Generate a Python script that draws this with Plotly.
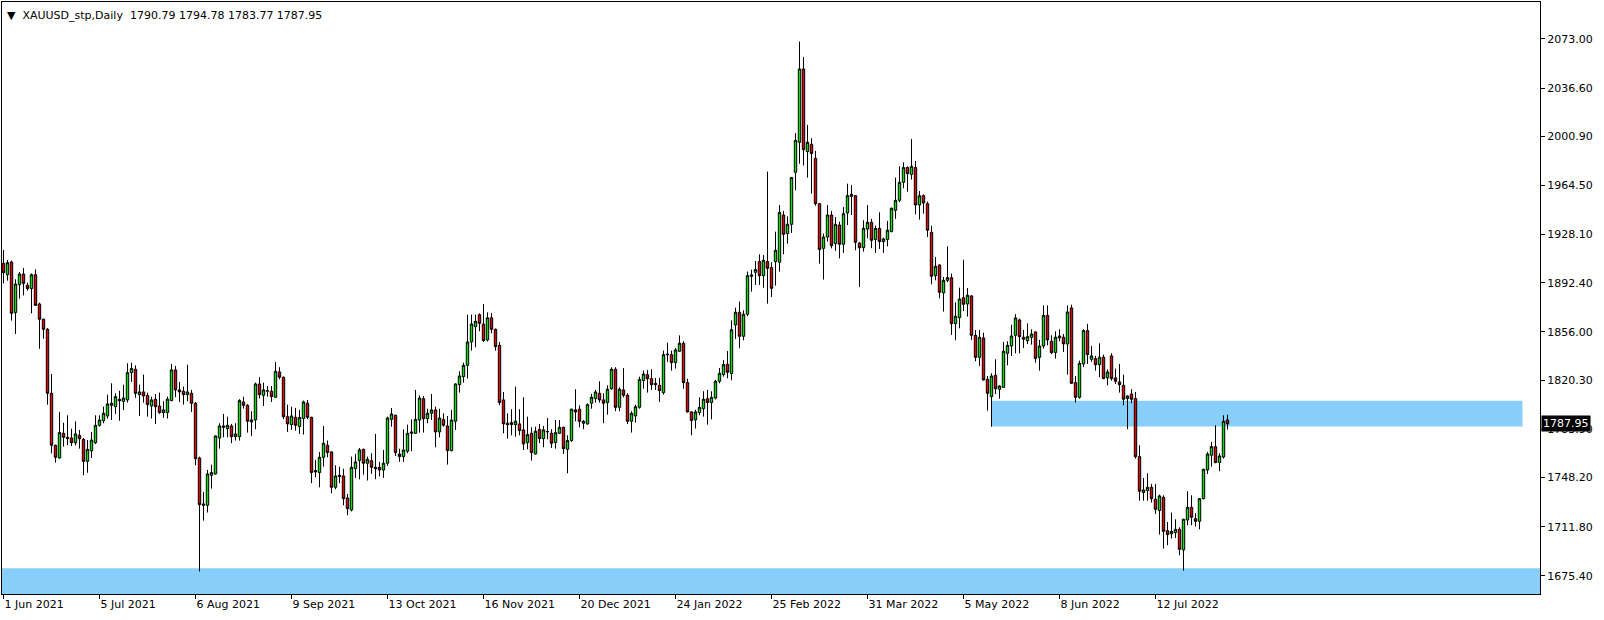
import plotly.graph_objects as go

symbol_title = "XAUUSD_stp,Daily"
last_quote = ["1790.79", "1794.78", "1783.77", "1787.95"]

date_labels = ["1 Jun 2021", "5 Jul 2021", "6 Aug 2021", "9 Sep 2021", "13 Oct 2021",
               "16 Nov 2021", "20 Dec 2021", "24 Jan 2022", "25 Feb 2022", "31 Mar 2022",
               "5 May 2022", "8 Jun 2022", "12 Jul 2022"]
label_step = 24

price_ticks = [2073.00, 2036.60, 2000.90, 1964.50, 1928.10, 1892.40, 1856.00,
               1820.30, 1783.90, 1748.20, 1711.80, 1675.40]

opens = [1906.8, 1898.4, 1907.8, 1870.3, 1891.0, 1898.9, 1890.5, 1888.1, 1898.4, 1876.7,
         1865.4, 1858.0, 1810.6, 1772.1, 1762.7, 1781.0, 1778.0, 1777.5, 1774.0, 1779.5,
         1776.5, 1760.2, 1768.1, 1774.0, 1786.9, 1790.3, 1793.8, 1801.7, 1800.7, 1806.1,
         1804.6, 1805.7, 1825.9, 1828.4, 1809.6, 1811.6, 1809.1, 1801.2, 1806.2, 1801.2,
         1796.3, 1796.3, 1805.2, 1827.9, 1813.1, 1812.1, 1809.6, 1810.6, 1803.2, 1762.7,
         1728.7, 1727.7, 1749.9, 1750.9, 1777.5, 1785.4, 1784.4, 1786.4, 1778.5, 1778.5,
         1804.2, 1801.7, 1789.4, 1790.9, 1817.5, 1809.1, 1812.1, 1812.1, 1807.7, 1826.4,
         1822.5, 1793.3, 1787.4, 1792.8, 1785.9, 1791.9, 1803.2, 1792.8, 1753.4, 1751.9,
         1763.2, 1772.1, 1767.2, 1741.0, 1748.9, 1749.4, 1733.1, 1724.2, 1754.8, 1760.8,
         1769.1, 1758.8, 1760.7, 1755.8, 1755.8, 1753.8, 1758.8, 1791.3, 1794.3, 1765.7,
         1763.7, 1767.7, 1781.0, 1781.0, 1790.8, 1806.6, 1791.8, 1795.8, 1798.3, 1782.0,
         1791.3, 1786.4, 1768.1, 1789.9, 1817.0, 1822.9, 1831.3, 1848.6, 1859.9, 1868.8,
         1861.9, 1850.1, 1866.5, 1858.0, 1846.1, 1805.7, 1788.4, 1788.9, 1787.4, 1787.9,
         1783.5, 1774.1, 1781.0, 1765.7, 1783.9, 1777.0, 1782.0, 1781.0, 1774.1, 1781.0,
         1785.4, 1769.1, 1775.6, 1798.3, 1798.8, 1789.9, 1787.9, 1803.2, 1806.7, 1810.6,
         1805.7, 1803.7, 1814.0, 1828.4, 1800.2, 1813.1, 1809.1, 1789.9, 1793.8, 1800.2,
         1820.0, 1824.4, 1821.4, 1818.0, 1816.5, 1811.1, 1839.7, 1839.2, 1833.3, 1841.7,
         1847.6, 1818.5, 1796.8, 1790.9, 1796.3, 1799.2, 1806.6, 1803.7, 1807.1, 1819.5,
         1824.4, 1832.1, 1825.2, 1861.2, 1870.6, 1852.8, 1869.1, 1897.2, 1900.2, 1908.1,
         1897.7, 1908.1, 1903.7, 1908.1, 1907.6, 1942.6, 1928.8, 1935.7, 1974.2, 1996.4,
         2050.7, 1989.5, 1994.9, 1984.6, 1951.0, 1917.9, 1926.3, 1942.6, 1921.4, 1935.2,
         1920.9, 1944.1, 1956.4, 1956.9, 1921.9, 1918.4, 1932.2, 1937.2, 1924.4, 1932.7,
         1922.9, 1924.4, 1930.3, 1946.1, 1953.5, 1966.8, 1977.7, 1972.7, 1977.7, 1950.0,
         1956.9, 1951.0, 1929.8, 1897.7, 1905.6, 1884.9, 1894.2, 1896.2, 1862.2, 1866.6,
         1881.4, 1876.7, 1882.7, 1853.5, 1837.2, 1851.6, 1821.0, 1808.1, 1823.9, 1813.5,
         1815.0, 1840.2, 1845.6, 1853.5, 1864.9, 1852.1, 1849.6, 1852.0, 1856.0, 1837.2,
         1845.6, 1868.3, 1849.1, 1840.7, 1851.6, 1852.1, 1847.1, 1873.8, 1818.5, 1807.6,
         1832.3, 1857.0, 1835.8, 1836.3, 1831.8, 1837.3, 1822.0, 1838.3, 1822.0, 1819.0,
         1816.5, 1806.7, 1810.1, 1806.7, 1763.7, 1737.1, 1738.6, 1741.0, 1732.1, 1723.8,
         1733.6, 1708.9, 1706.5, 1707.5, 1709.9, 1694.6, 1716.8, 1726.2, 1717.8, 1715.8,
         1732.6, 1753.8, 1764.7, 1771.1, 1759.3, 1763.4, 1790.79]

highs = [1916.7, 1909.3, 1908.8, 1895.0, 1900.4, 1903.4, 1892.5, 1899.4, 1902.4, 1877.7,
         1865.9, 1858.9, 1824.9, 1772.6, 1796.8, 1788.8, 1794.3, 1784.4, 1789.8, 1783.4,
         1777.5, 1776.0, 1781.9, 1794.3, 1794.3, 1800.7, 1809.6, 1818.0, 1810.6, 1812.5,
         1817.0, 1832.8, 1833.3, 1831.3, 1817.0, 1824.4, 1811.1, 1808.1, 1810.1, 1811.1,
         1804.7, 1808.1, 1832.3, 1830.9, 1819.0, 1815.6, 1831.8, 1813.1, 1804.2, 1763.7,
         1737.6, 1753.9, 1757.8, 1779.5, 1788.4, 1795.3, 1793.3, 1787.9, 1788.4, 1806.2,
         1808.1, 1802.7, 1797.3, 1818.5, 1822.5, 1818.5, 1816.0, 1816.0, 1833.8, 1829.9,
         1823.0, 1802.2, 1800.7, 1799.8, 1798.3, 1805.2, 1805.7, 1793.3, 1761.3, 1767.2,
         1786.4, 1775.6, 1767.7, 1757.3, 1756.3, 1754.8, 1736.1, 1763.7, 1765.7, 1770.1,
         1769.6, 1763.7, 1766.2, 1780.5, 1759.8, 1768.7, 1793.3, 1799.7, 1794.8, 1769.6,
         1783.9, 1787.4, 1791.3, 1813.1, 1809.1, 1808.6, 1799.2, 1810.1, 1800.7, 1799.2,
         1795.8, 1793.8, 1798.3, 1818.0, 1826.9, 1833.3, 1868.8, 1868.8, 1868.8, 1869.8,
         1876.7, 1870.5, 1870.0, 1858.5, 1848.6, 1811.6, 1795.8, 1798.8, 1815.5, 1798.8,
         1807.7, 1793.3, 1785.4, 1785.9, 1787.9, 1786.4, 1792.3, 1784.0, 1790.8, 1790.8,
         1785.9, 1779.5, 1799.3, 1813.6, 1801.7, 1790.8, 1803.2, 1810.1, 1813.1, 1819.5,
         1810.6, 1816.5, 1829.9, 1829.9, 1815.0, 1829.3, 1810.6, 1797.3, 1802.2, 1822.9,
         1827.4, 1827.9, 1828.4, 1822.0, 1822.0, 1842.2, 1848.1, 1842.2, 1844.1, 1853.5,
         1849.1, 1821.4, 1797.3, 1798.3, 1807.6, 1812.1, 1813.1, 1812.1, 1820.5, 1829.3,
         1835.3, 1841.9, 1864.6, 1874.0, 1878.5, 1872.0, 1900.7, 1902.2, 1908.6, 1913.5,
         1913.0, 1974.7, 1907.6, 1930.3, 1950.0, 1945.6, 1941.6, 1970.8, 2003.3, 2071.0,
         2059.6, 2009.3, 1999.4, 1990.0, 1951.5, 1928.8, 1950.0, 1945.6, 1941.1, 1937.7,
         1948.6, 1965.8, 1964.8, 1957.4, 1922.4, 1938.7, 1950.0, 1939.7, 1934.7, 1944.6,
         1925.8, 1938.2, 1948.1, 1970.3, 1978.6, 1981.6, 1978.6, 1998.9, 1982.6, 1960.4,
         1957.9, 1952.5, 1934.7, 1911.5, 1906.1, 1896.7, 1919.4, 1899.2, 1877.9, 1888.8,
         1909.5, 1888.5, 1883.2, 1857.5, 1857.5, 1855.5, 1823.4, 1825.4, 1835.8, 1816.5,
         1848.6, 1849.1, 1861.4, 1869.3, 1865.9, 1857.5, 1862.4, 1858.0, 1856.5, 1850.1,
         1875.7, 1875.7, 1853.5, 1856.5, 1858.0, 1854.5, 1875.7, 1876.2, 1823.4, 1834.8,
         1858.0, 1862.0, 1845.7, 1838.3, 1847.6, 1839.2, 1828.4, 1840.2, 1828.9, 1832.3,
         1824.4, 1809.1, 1813.6, 1811.6, 1772.1, 1747.9, 1751.4, 1743.5, 1743.5, 1735.6,
         1735.1, 1715.3, 1722.3, 1717.3, 1711.4, 1717.8, 1738.1, 1735.1, 1721.8, 1733.1,
         1754.8, 1767.2, 1774.6, 1786.9, 1766.2, 1794.3, 1794.78]

lows = [1892.0, 1894.0, 1864.4, 1854.5, 1880.7, 1883.1, 1886.6, 1869.8, 1875.2, 1843.6,
        1851.0, 1802.2, 1766.1, 1759.2, 1762.2, 1771.1, 1772.1, 1771.6, 1772.1, 1769.6,
        1749.9, 1751.8, 1762.7, 1773.0, 1785.9, 1788.4, 1791.8, 1790.8, 1795.3, 1790.3,
        1798.2, 1803.7, 1819.0, 1807.2, 1793.8, 1803.7, 1793.3, 1791.9, 1787.9, 1795.3,
        1792.4, 1791.9, 1804.7, 1807.7, 1804.2, 1802.2, 1804.7, 1796.8, 1757.3, 1678.6,
        1716.3, 1722.3, 1740.0, 1750.4, 1769.6, 1778.0, 1778.0, 1773.6, 1775.6, 1775.6,
        1799.3, 1781.5, 1779.0, 1784.0, 1806.7, 1801.2, 1808.1, 1804.2, 1807.2, 1821.0,
        1791.4, 1782.0, 1783.5, 1783.0, 1780.5, 1780.0, 1791.4, 1744.0, 1748.4, 1741.0,
        1756.3, 1763.2, 1736.6, 1739.5, 1744.0, 1727.7, 1720.3, 1723.2, 1747.9, 1746.9,
        1750.4, 1746.0, 1751.0, 1747.0, 1749.0, 1748.0, 1756.8, 1785.9, 1764.2, 1759.8,
        1759.8, 1766.2, 1767.7, 1780.5, 1781.5, 1781.5, 1788.4, 1790.8, 1770.6, 1778.0,
        1785.9, 1757.8, 1767.7, 1783.5, 1811.1, 1818.5, 1821.5, 1842.2, 1844.6, 1856.5,
        1848.6, 1849.0, 1855.0, 1842.2, 1801.7, 1781.0, 1777.0, 1779.5, 1778.5, 1779.5,
        1768.6, 1769.1, 1760.8, 1765.2, 1773.6, 1770.6, 1776.5, 1770.1, 1769.6, 1780.5,
        1765.7, 1751.4, 1774.6, 1789.9, 1785.4, 1784.0, 1787.4, 1799.2, 1803.7, 1803.7,
        1788.4, 1794.8, 1813.1, 1797.3, 1797.3, 1807.6, 1787.9, 1781.5, 1788.9, 1799.2,
        1814.0, 1811.1, 1813.1, 1813.1, 1804.2, 1809.6, 1833.8, 1827.4, 1828.9, 1841.2,
        1814.0, 1796.3, 1779.5, 1784.5, 1794.3, 1793.3, 1787.4, 1791.3, 1806.1, 1818.0,
        1822.9, 1821.7, 1820.2, 1850.8, 1843.9, 1849.8, 1867.6, 1885.9, 1890.8, 1890.8,
        1888.8, 1877.0, 1881.9, 1890.3, 1900.7, 1913.5, 1921.4, 1929.3, 1960.9, 1980.6,
        1979.2, 1970.3, 1958.4, 1949.5, 1906.6, 1894.8, 1922.9, 1917.9, 1916.0, 1910.5,
        1914.5, 1935.2, 1942.6, 1916.5, 1889.3, 1915.5, 1925.3, 1918.0, 1914.5, 1917.5,
        1914.5, 1919.4, 1929.8, 1939.7, 1952.0, 1962.4, 1959.9, 1968.8, 1943.1, 1939.2,
        1943.6, 1926.3, 1891.3, 1894.2, 1880.9, 1871.1, 1892.8, 1853.8, 1849.8, 1858.7,
        1871.5, 1867.4, 1850.1, 1834.3, 1830.8, 1820.0, 1797.8, 1785.9, 1810.1, 1806.6,
        1814.5, 1831.3, 1838.2, 1840.2, 1840.2, 1844.2, 1847.1, 1846.6, 1833.3, 1827.4,
        1843.7, 1846.1, 1839.7, 1836.3, 1849.1, 1841.2, 1824.4, 1817.5, 1803.7, 1806.6,
        1830.0, 1832.3, 1833.8, 1827.4, 1822.5, 1821.0, 1816.5, 1820.0, 1817.5, 1811.1,
        1801.7, 1784.0, 1803.2, 1762.2, 1731.1, 1731.1, 1731.1, 1729.7, 1721.3, 1706.0,
        1695.6, 1698.1, 1703.0, 1703.5, 1690.7, 1679.3, 1712.9, 1712.9, 1711.9, 1709.9,
        1732.1, 1750.9, 1756.3, 1758.8, 1752.9, 1762.2, 1783.77]

closes = [1899.9, 1907.3, 1869.8, 1891.5, 1898.9, 1892.0, 1888.1, 1898.4, 1875.7, 1865.4,
          1858.0, 1810.6, 1772.1, 1763.2, 1781.5, 1778.0, 1777.0, 1774.0, 1780.5, 1777.0,
          1760.2, 1769.1, 1776.0, 1786.9, 1790.8, 1795.8, 1802.7, 1803.2, 1808.1, 1805.1,
          1807.1, 1825.9, 1828.9, 1810.6, 1811.6, 1808.6, 1802.2, 1805.7, 1800.7, 1796.3,
          1798.3, 1806.2, 1827.9, 1813.1, 1811.6, 1809.6, 1811.6, 1803.2, 1762.2, 1728.2,
          1727.7, 1750.9, 1751.9, 1779.0, 1786.4, 1786.4, 1786.9, 1778.5, 1780.5, 1805.2,
          1801.7, 1789.9, 1790.9, 1817.5, 1809.6, 1813.1, 1812.6, 1808.1, 1826.9, 1822.5,
          1793.3, 1787.9, 1793.8, 1786.9, 1792.8, 1804.2, 1792.8, 1751.9, 1752.4, 1763.2,
          1773.6, 1766.7, 1741.0, 1749.4, 1749.9, 1732.6, 1725.2, 1755.8, 1759.8, 1768.7,
          1758.8, 1761.7, 1755.8, 1754.8, 1753.8, 1758.8, 1792.3, 1795.3, 1766.7, 1763.7,
          1768.6, 1781.0, 1782.0, 1791.3, 1807.1, 1791.8, 1795.8, 1798.3, 1782.0, 1792.3,
          1786.9, 1768.1, 1790.8, 1817.5, 1823.4, 1831.3, 1848.6, 1861.9, 1863.9, 1862.4,
          1849.6, 1866.5, 1858.0, 1845.2, 1803.7, 1787.9, 1787.4, 1787.4, 1789.9, 1783.0,
          1773.1, 1780.0, 1766.7, 1782.5, 1777.0, 1783.5, 1782.3, 1773.6, 1781.5, 1785.4,
          1769.6, 1775.6, 1798.8, 1796.8, 1789.9, 1788.4, 1802.2, 1807.7, 1811.6, 1805.7,
          1803.2, 1813.6, 1828.4, 1800.2, 1813.6, 1809.1, 1789.9, 1795.8, 1800.7, 1820.9,
          1824.9, 1821.4, 1817.0, 1817.0, 1812.6, 1839.2, 1839.2, 1833.3, 1842.7, 1847.6,
          1818.5, 1796.8, 1790.4, 1796.8, 1800.2, 1806.2, 1803.7, 1807.6, 1819.5, 1825.4,
          1831.8, 1826.2, 1857.7, 1870.6, 1852.8, 1869.1, 1897.7, 1898.2, 1902.2, 1897.7,
          1909.1, 1903.2, 1888.3, 1916.5, 1944.6, 1928.3, 1935.7, 1970.3, 1997.9, 2050.7,
          1991.0, 1996.4, 1988.0, 1951.0, 1917.0, 1926.3, 1942.6, 1919.9, 1935.7, 1920.9,
          1943.6, 1956.9, 1957.9, 1922.4, 1918.4, 1932.7, 1937.2, 1923.9, 1932.7, 1922.9,
          1924.9, 1931.3, 1947.6, 1953.5, 1966.8, 1977.7, 1973.2, 1978.6, 1950.0, 1956.9,
          1951.5, 1931.3, 1897.2, 1904.6, 1885.4, 1894.2, 1896.2, 1862.2, 1867.6, 1880.4,
          1876.5, 1883.2, 1853.5, 1837.2, 1852.1, 1820.5, 1810.6, 1823.4, 1814.0, 1816.0,
          1841.7, 1846.1, 1853.0, 1866.4, 1852.5, 1850.6, 1852.5, 1854.5, 1836.3, 1845.6,
          1868.3, 1850.1, 1840.7, 1852.1, 1853.0, 1847.1, 1870.8, 1818.0, 1807.6, 1832.8,
          1857.0, 1839.2, 1838.3, 1831.8, 1837.3, 1821.5, 1826.4, 1821.5, 1819.5, 1817.0,
          1806.2, 1808.6, 1806.2, 1763.7, 1738.1, 1739.0, 1741.0, 1732.6, 1724.7, 1734.6,
          1708.4, 1706.0, 1708.4, 1709.9, 1695.1, 1717.3, 1726.2, 1718.8, 1715.8, 1732.6,
          1754.3, 1765.7, 1771.1, 1759.3, 1764.2, 1789.9, 1787.95]

# zones (price levels)
zone_upper = (1786.0, 1805.0)
zone_upper_start_bar = 247
zone_lower_top = 1681.0

n = len(opens)
bars = list(range(n))

GREEN = "#00E600"
RED = "#E60000"
ZONE = "#87CEFA"
FONT = "DejaVu Sans"

fig = go.Figure()
fig.add_trace(go.Candlestick(
    x=bars, open=opens, high=highs, low=lows, close=closes,
    increasing=dict(fillcolor=GREEN, line=dict(color="black", width=1)),
    decreasing=dict(fillcolor=RED, line=dict(color="black", width=1)),
    whiskerwidth=0, showlegend=False, hoverinfo="skip",
))

y_lo, y_hi = 1662.0, 2100.3
x_lo, x_hi = -0.375, 384.125

fig.add_shape(type="rect", xref="x", yref="y", x0=zone_upper_start_bar, x1=379.75,
              y0=zone_upper[0], y1=zone_upper[1], fillcolor=ZONE, line=dict(width=0), layer="below")
fig.add_shape(type="rect", xref="paper", yref="y", x0=0, x1=1,
              y0=y_lo, y1=zone_lower_top, fillcolor=ZONE, line=dict(width=0), layer="below")

# title
fig.add_annotation(xref="paper", yref="paper", x=0, y=1, xanchor="left", yanchor="top",
                   xshift=3, yshift=-5, showarrow=False,
                   text="▼\u00a0\u00a0" + symbol_title + "\u00a0\u00a0" + " ".join(last_quote),
                   font=dict(family=FONT, size=11, color="black"))

# current price label on axis
fig.add_annotation(xref="paper", yref="y", x=1, y=float(last_quote[3]), xanchor="left",
                   yanchor="middle", xshift=1, showarrow=False, text=last_quote[3],
                   bgcolor="black", borderpad=1, font=dict(family=FONT, size=11, color="white"))

fig.update_layout(
    width=1604, height=620,
    margin=dict(l=2, r=64, t=2, b=26, autoexpand=False),
    paper_bgcolor="white", plot_bgcolor="white",
    boxgap=0.15,
    showlegend=False,
    xaxis=dict(range=[x_lo, x_hi], rangeslider=dict(visible=False), automargin=False,
               tickvals=[i * label_step for i in range(len(date_labels))], ticktext=date_labels,
               ticks="outside", ticklen=4, tickcolor="black", ticklabelposition="outside right",
               showgrid=False, zeroline=False, showline=True, mirror=True,
               linecolor="black", linewidth=1,
               tickfont=dict(family=FONT, size=11, color="black")),
    yaxis=dict(range=[y_lo, y_hi], side="right", automargin=False,
               tickvals=price_ticks, ticktext=[f"{v:.2f}" for v in price_ticks],
               ticks="outside", ticklen=4, tickcolor="black",
               showgrid=False, zeroline=False, showline=True, mirror=True,
               linecolor="black", linewidth=1,
               tickfont=dict(family=FONT, size=11, color="black")),
)

fig.write_html("out.html", config={"displayModeBar": False},
               post_script="document.body.style.margin='0px';")
